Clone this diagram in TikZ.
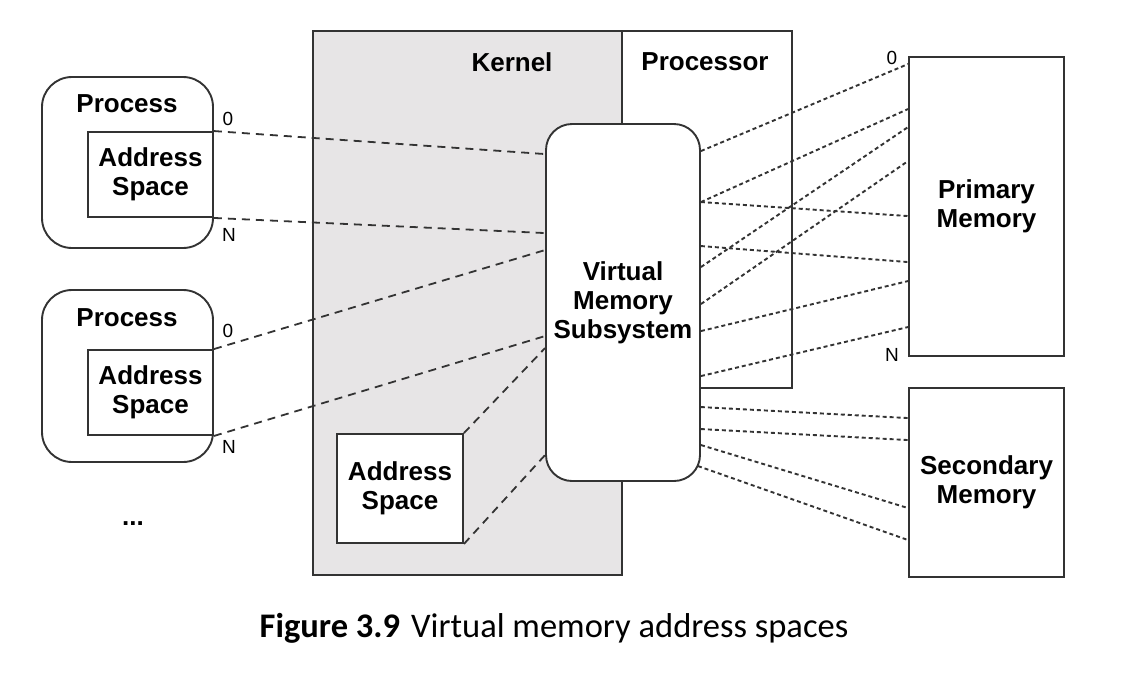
\documentclass[tikz,border=0pt]{standalone}
\usepackage{fontspec}
\setmainfont{Liberation Sans}
\newfontfamily\capfont{Carlito}
\usetikzlibrary{calc}
\definecolor{kgray}{HTML}{E7E5E6}
\definecolor{edge}{HTML}{333333}
\tikzset{
  box/.style={draw=edge, line width=1.9pt, fill=white, inner sep=0pt, align=center,
    font=\fontsize{26}{29}\selectfont\bfseries},
  lbl/.style={inner sep=0pt, font=\fontsize{26}{29}\selectfont\bfseries},
  idx/.style={inner sep=0pt, font=\fontsize{19}{22}\selectfont},
  longdash/.style={draw=edge, line width=1.8pt, dash pattern=on 8pt off 6pt},
  shortdash/.style={draw=edge, line width=1.9pt, dash pattern=on 4pt off 3pt},
}
\begin{document}
\begin{tikzpicture}[x=1pt,y=-1pt]
\useasboundingbox (0,0) rectangle (1127,673);
% kernel and processor
\node[box, fill=kgray, minimum width=309pt, minimum height=544pt] (kernel) at (467.5,303) {};
\node[box, minimum width=170pt, minimum height=357pt] (proc) at (707,209.5) {};
\node[lbl] (kernellbl) at (512,62) {Kernel};
\node[lbl] (proclbl) at (705,62) {Processor};
% processes
\node[box, rounded corners=30pt, minimum width=171pt, minimum height=171pt] (proc1) at (127.5,162.5) {};
\node[box, minimum width=125pt, minimum height=85pt] (as1) at (150.5,174.5) {Address\\Space};
\node[lbl] (proc1lbl) at (127,104) {Process};
\node[box, rounded corners=30pt, minimum width=171pt, minimum height=172pt] (proc2) at (127.5,376) {};
\node[box, minimum width=125pt, minimum height=85pt] (as2) at (150.5,392.5) {Address\\Space};
\node[lbl] (proc2lbl) at (127,318) {Process};
\node[lbl] (dots) at (133,524) {...};
% kernel address space
\node[box, minimum width=126pt, minimum height=109pt] (kas) at (400,488.5) {Address\\Space};
% virtual memory subsystem
\node[box, rounded corners=26pt, minimum width=154pt, minimum height=357pt] (vm) at (623,302.5) {Virtual\\Memory\\Subsystem};
% memories
\node[box, minimum width=155pt, minimum height=299pt] (pm) at (986.5,206.5) {Primary\\Memory};
\node[box, minimum width=155pt, minimum height=189pt] (sm) at (986.5,482.5) {Secondary\\Memory};
% index labels
\node[idx] (z1) at (228,119) {0};
\node[idx] (n1) at (229,235) {N};
\node[idx] (z2) at (228,331) {0};
\node[idx] (n2) at (229,447) {N};
\node[idx] (zp) at (892,58) {0};
\node[idx] (np) at (892,355) {N};
% process address spaces to VM
\draw[longdash] (as1.north east) -- ($(vm.north west)+(0,31)$);
\draw[longdash] (as1.south east) -- ($(vm.north west)+(0,110)$);
\draw[longdash] (as2.north east) -- ($(vm.north west)+(0,127)$);
\draw[longdash] (as2.south east) -- ($(vm.north west)+(0,213)$);
\draw[longdash] (kas.north east) -- ($(vm.north west)+(0,225)$);
\draw[longdash] (kas.south east) -- ($(vm.north west)+(0,332)$);
% VM to primary memory
\draw[shortdash] ($(vm.north east)+(0,28)$) -- ($(pm.north west)+(0,8)$);
\draw[shortdash] ($(vm.north east)+(0,79)$) -- ($(pm.north west)+(0,53)$);
\draw[shortdash] ($(vm.north east)+(0,79)$) -- ($(pm.north west)+(0,160)$);
\draw[shortdash] ($(vm.north east)+(0,123)$) -- ($(pm.north west)+(0,206)$);
\draw[shortdash] ($(vm.north east)+(0,144)$) -- ($(pm.north west)+(0,71)$);
\draw[shortdash] ($(vm.north east)+(0,181)$) -- ($(pm.north west)+(0,105)$);
\draw[shortdash] ($(vm.north east)+(0,208)$) -- ($(pm.north west)+(0,225)$);
\draw[shortdash] ($(vm.north east)+(0,253)$) -- ($(pm.north west)+(0,271)$);
% VM to secondary memory
\draw[shortdash] ($(vm.north east)+(0,284)$) -- ($(sm.north west)+(0,31)$);
\draw[shortdash] ($(vm.north east)+(0,306)$) -- ($(sm.north west)+(0,53)$);
\draw[shortdash] ($(vm.north east)+(0,322)$) -- ($(sm.north west)+(0,121)$);
\draw[shortdash] ($(vm.north east)+(-3,343)$) -- ($(sm.north west)+(0,153)$);
% caption
\node[inner sep=0pt, font=\capfont\fontsize{34.5}{38}\selectfont] (caption) at (554,628) {\textbf{Figure 3.9}\hspace{11pt}Virtual memory address spaces};
\end{tikzpicture}
\end{document}
